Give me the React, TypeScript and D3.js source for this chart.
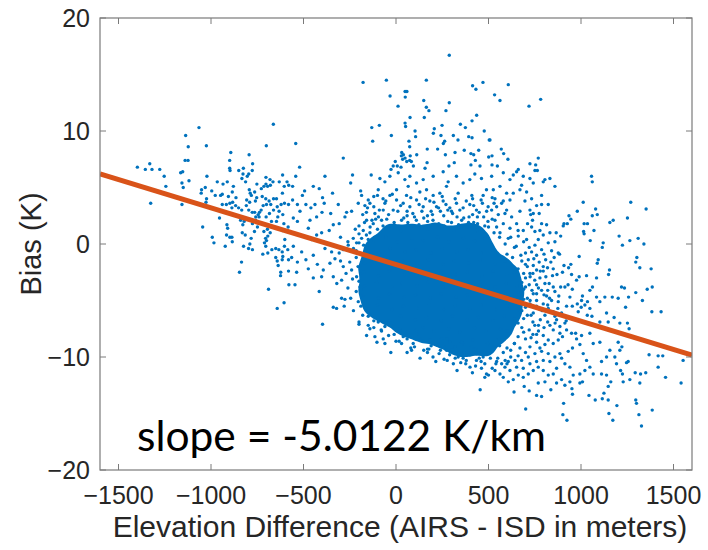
import { useEffect, useRef } from 'react'
import * as d3 from 'd3'

type Pt = [number, number] // [elevation difference (m), bias (K)]

const xTicks = [-1500, -1000, -500, 0, 500, 1000, 1500]
const yTicks = [-20, -10, 0, 10, 20]
const slopePerKm = -5.0122
const interceptK = -1.82

// stations well to the left (AIRS lower than ISD)
const farLeftPoints: Pt[] = [
  [-663,10.6],[-1065,10.3],[-1137,9.6],[-1123,8.6],[-1025,8.7],[-1140,7.4],[-1124,7.4],[-893,8.1],[-899,7.4],[-794,7.9],
  [-775,7.1],[-701,8.7],[-1331,7.1],[-1398,6.8],[-1355,6.6],[-1319,6.6],[-1277,6.6],[-899,6.7],[-825,6.7],[-1164,6.3],
  [-1153,6.4],[-1253,6.0],[-1244,5.1],[-1326,3.6],[-1157,5.4],[-1150,5.0],[-1119,5.6],[-1157,3.5],[-1051,4.8],[-1022,6.0],
  [-1031,5.0],[-1053,4.5],[-1024,4.0],[-1027,3.7],[-996,4.7],[-966,5.5],[-935,5.3],[-912,5.5],[-879,5.1],[-897,6.5],
  [-850,6.5],[-827,6.2],[-977,4.3],[-948,4.3],[-939,4.4],[-906,4.2],[-885,4.6],[-865,4.1],[-883,3.7],[-917,3.5],
  [-939,3.5],[-867,3.4],[-851,3.2],[-834,3.0],[-887,3.2],[-898,3.6],[-1045,1.5],[-993,0.6],[-984,0.1],[-923,-0.2],
  [-914,1.7],[-910,1.4],[-916,0.8],[-898,0.6],[-885,0.2],[-887,0.6],[-954,2.3],[-833,5.8],[-813,5.5],[-804,6.0],
  [-793,4.8],[-788,4.5],[-782,4.3],[-764,4.6],[-753,4.1],[-760,3.8],[-791,3.7],[-807,3.9],[-809,3.4],[-796,3.0],
  [-777,2.8],[-764,2.8],[-752,5.3],[-728,4.9],[-714,5.1],[-703,5.3],[-694,5.1],[-679,5.2],[-681,5.7],[-665,5.5],
  [-703,5.9],[-796,6.2],[-777,6.5],[-613,6.1],[-631,5.5],[-614,4.5],[-604,5.1],[-589,5.5],[-580,5.2],[-723,4.2],
  [-704,4.0],[-686,3.8],[-662,4.0],[-646,4.0],[-677,3.5],[-700,3.5],[-718,3.4],[-729,3.0],[-738,2.8],[-740,2.4],
  [-702,2.4],[-684,2.7],[-662,3.0],[-642,3.3],[-621,3.5],[-603,3.6],[-581,3.5],[-632,2.9],[-612,2.6],[-639,2.4],
  [-646,2.0],[-673,2.0],[-678,1.6],[-695,1.3],[-714,1.1],[-693,0.7],[-680,1.0],[-666,1.5],[-606,1.8],[-614,1.2],
  [-588,1.2],[-583,1.5],[-601,0.4],[-705,0.5],[-700,0.3],[-711,0.1],[-704,-0.2],[-720,-0.9],[-693,-0.8],[-671,-0.5],
  [-650,-0.4],[-633,-0.5],[-615,-0.7],[-603,-0.2],[-585,-0.5],[-612,-1.1],[-650,-1.2],[-642,-1.5],[-615,-1.4],[-637,-1.9],
  [-581,-1.4],[-623,-2.5],[-624,-2.8],[-581,-2.4],[-579,-3.6],[-689,-4.0],[-642,-5.7],[-605,-5.2],[-846,-2.5],[-835,-1.6],
  [-776,-0.5],[-797,-0.4],[-824,-0.2],[-790,0.0],[-783,0.5],[-815,0.8],[-831,1.0],[-828,1.7],[-821,2.0],[-840,2.1],
  [-776,1.8],[-765,1.1],[-749,1.5],[-759,2.1],[-758,2.4],[-745,2.6],
]

// warm-bias outliers above the main cloud
const upperPoints: Pt[] = [
  [288,16.7],[-178,14.3],[-52,14.5],[164,14.5],[414,14.0],[432,13.7],[470,14.3],[49,13.5],[59,13.5],[-32,13.1],
  [50,13.0],[150,12.7],[288,12.5],[11,12.2],[164,12.1],[178,11.8],[270,11.8],[76,11.2],[153,11.2],[436,11.4],
  [49,10.7],[52,10.4],[-131,10.3],[-90,10.5],[207,10.2],[249,10.5],[348,10.6],[375,10.3],[411,10.9],[477,10.0],
  [103,10.0],[202,9.8],[243,9.6],[310,9.6],[393,9.5],[411,9.4],[-25,9.6],[106,9.5],[70,9.1],[-126,9.1],
  [-542,8.9],[263,9.1],[256,8.9],[335,9.2],[504,9.2],[74,8.6],[169,8.4],[225,8.4],[369,8.3],[447,8.3],
  [319,8.1],[31,8.1],[40,7.9],[29,7.8],[49,7.6],[36,7.5],[77,7.8],[112,7.9],[74,7.4],[83,7.3],
  [58,7.3],[267,7.9],[405,8.0],[420,7.9],[429,7.4],[405,7.0],[315,7.2],[168,7.2],[-4,7.3],[7,6.9],
  [-15,6.9],[27,6.8],[-27,6.6],[94,6.9],[157,6.7],[286,6.9],[454,6.9],[501,7.7],[-285,7.6],[-521,6.8],
  [607,14.1],[533,13.2],[562,12.7],[719,12.2],[782,12.8],[508,9.2],[569,8.4],[582,8.0],[519,7.8],[605,7.5],
  [769,7.6],[724,7.1],[755,7.0],[519,7.0],[548,6.9],[661,6.6],
]

// middle band, left of and above the dense core
const midPoints: Pt[] = [
  [-542,6.0],[-559,5.1],[-494,4.7],[-506,4.3],[-559,3.9],[-533,3.5],[-487,3.5],[-460,3.2],[-438,3.5],[-447,5.1],
  [-397,4.1],[-388,3.6],[-415,4.9],[-384,6.0],[-343,4.5],[-312,3.5],[-353,2.7],[-400,2.8],[-429,2.4],[-465,2.1],
  [-555,2.3],[-533,2.0],[-519,2.9],[-474,1.4],[-501,0.7],[-456,0.4],[-429,0.8],[-402,1.0],[-361,1.2],[-339,1.7],
  [-307,1.8],[-276,2.4],[-267,2.8],[-240,2.9],[-245,5.4],[-235,6.1],[-191,4.7],[-186,4.3],[-204,3.6],[-168,3.4],
  [-141,3.6],[-154,3.2],[-134,6.1],[-87,5.8],[-60,5.5],[-96,4.8],[-100,4.3],[-55,3.8],[-33,6.0],[12,6.3],
  [48,5.7],[75,6.0],[111,5.4],[147,5.7],[201,6.0],[255,6.4],[282,5.5],[327,6.0],[363,5.4],[399,5.7],
  [426,6.2],[462,5.8],[489,4.8],[414,4.0],[467,3.6],[336,4.5],[237,4.5],[165,4.8],[57,4.3],[3,3.9],
  [3,4.8],[39,3.6],[75,3.3],[111,3.9],[147,3.3],[183,3.8],[219,3.3],[255,3.8],[291,3.2],[327,3.6],
  [363,3.2],[399,3.5],[435,3.0],[471,4.3],[498,3.3],[273,5.1],[201,4.3],[129,4.6],[66,5.1],[-33,4.3],
  [-15,3.0],[-69,3.0],[-114,2.7],[-78,2.1],[-123,1.8],[-159,2.1],[-177,1.2],[-141,1.0],[-186,0.5],[42,2.3],
  [91,2.7],[150,2.3],[197,2.6],[258,2.5],[306,2.7],[366,2.3],[414,2.6],[474,2.4],[64,1.9],[124,1.7],
  [171,2.0],[231,1.8],[280,2.0],[338,1.7],[392,1.9],[441,1.8],[497,2.0],
  [-555,-0.2],[-510,-0.7],[-564,-1.2],[-533,-1.6],[-487,-1.4],[-447,-1.0],[-425,-1.8],[-474,-2.2],[-537,-2.5],[-546,-3.6],
  [-447,-3.0],[-393,-2.3],[-402,-2.9],[-357,-1.7],[-330,-1.3],[-307,-0.8],[-348,-0.7],[-384,-0.4],[-285,-0.5],[-258,-0.1],
  [-231,0.5],[-213,0.1],[-285,-2.0],[-339,-2.9],[-294,-3.2],[-240,-2.3],[-213,-2.9],[-415,-4.2],[-294,-4.8],[-276,-4.9],
  [-339,-5.6],[-321,-5.7],[-195,-3.8],[-150,-6.4],[-204,-5.1],
]

// cold-bias tail below the core
const lowerPoints: Pt[] = [
  [-397,-7.1],[-200,-7.1],[-103,-8.7],[-28,-9.6],[-78,-7.7],[17,-8.6],[84,-9.4],[93,-8.8],[170,-9.3],[178,-9.3],
  [215,-10.4],[277,-10.3],[219,-8.9],[233,-9.7],[273,-9.4],[318,-9.1],[327,-9.5],[336,-10.0],[363,-10.1],[377,-10.6],
  [413,-11.4],[455,-12.9],[399,-9.8],[435,-10.3],[462,-11.0],[480,-11.8],[489,-11.5],[435,-9.7],[471,-10.0],[57,-7.9],
  [21,-7.6],[111,-7.6],[-15,-7.3],[-51,-7.0],[39,-8.2],[138,-8.4],[183,-8.5],[246,-8.4],[291,-8.7],[363,-8.8],
  [408,-9.1],[-141,-7.5],[-159,-8.1],[-114,-8.2],[-69,-8.4],[-96,-6.9],
  [701,-14.6],[906,-14.1],[902,-15.1],[924,-15.6],[1151,-15.0],[1172,-15.6],[1327,-16.1],[1313,-15.1],[1385,-14.7],[1296,-13.8],
  [1300,-14.1],[1194,-14.3],[1147,-13.8],[1115,-13.7],[1077,-13.8],[1043,-13.4],[1124,-13.2],[954,-13.3],[951,-12.8],[638,-13.1],
  [693,-12.6],[720,-13.0],[760,-13.4],[787,-13.5],[837,-12.9],[769,-12.3],[805,-12.2],[868,-12.3],[895,-12.0],[940,-12.2],
  [913,-12.5],[994,-12.3],[1008,-12.2],[1147,-12.6],[1161,-12.2],[1228,-12.2],[1264,-12.0],[1318,-12.3],[1322,-11.5],[1293,-11.4],
  [1350,-11.4],[1457,-11.8],[1541,-12.3],[1552,-10.3],[1442,-9.9],[1417,-9.9],[1368,-9.8],[1417,-10.9],[1246,-10.5],[1255,-10.4],
  [1214,-11.2],[1224,-11.5],[1192,-10.6],[1183,-10.0],[1210,-9.4],[1221,-9.1],[1201,-8.7],[1215,-7.9],[1260,-7.5],[1210,-7.0],
  [1251,-7.0],[1147,-6.9],[1102,-6.9],[1048,-7.9],[1066,-8.8],[1102,-8.7],[1156,-9.4],[1138,-10.0],[1111,-10.4],[1111,-11.5],
  [1138,-11.6],[1066,-11.5],[1048,-10.9],[1030,-10.3],[1012,-9.7],[994,-8.9],[976,-8.4],[949,-7.9],[922,-7.6],[913,-7.0],
  [886,-7.3],[868,-6.7],[971,-7.9],[1003,-8.1],[1021,-11.2],[994,-11.5],[958,-11.6],[940,-10.9],[913,-10.6],[895,-10.1],
  [886,-9.7],[931,-9.5],[954,-9.2],[868,-11.0],[850,-11.5],[823,-11.6],[796,-11.2],[769,-10.9],[742,-11.2],[715,-11.5],
  [688,-11.8],[661,-11.6],[634,-12.0],[607,-12.2],[580,-11.8],[562,-11.5],[535,-11.2],[616,-11.2],[589,-10.9],[652,-10.9],
  [688,-11.0],[724,-10.6],[760,-10.4],[796,-10.3],[832,-10.4],[859,-10.0],[823,-9.7],[787,-9.5],[751,-9.7],[715,-10.0],
  [679,-10.3],[643,-10.3],[607,-10.4],[571,-10.6],[544,-10.4],[823,-8.5],[850,-8.8],[877,-8.5],[886,-7.9],[850,-7.6],
  [832,-7.2],[796,-8.1],[760,-8.7],[724,-9.1],[778,-9.2],[805,-8.9],
]

// right flank (AIRS higher than ISD)
const rightPoints: Pt[] = [
  [1057,6.0],[1061,5.5],[1269,3.7],[1352,3.1],[1012,3.7],[980,2.9],[1079,3.1],[1088,2.6],[1061,2.5],[935,2.5],
  [945,2.2],[908,1.8],[904,1.6],[926,1.8],[1017,1.8],[1035,1.8],[1014,1.1],[1017,0.9],[1070,1.2],[1156,1.9],
  [1174,2.1],[1251,2.3],[1206,0.7],[1264,0.3],[1224,-0.1],[1309,0.5],[1340,0.0],[1120,0.1],[1115,-0.3],[1050,0.3],
  [990,-1.1],[1093,-1.4],[1088,-1.7],[1154,-2.3],[1149,-2.7],[1302,-1.2],[1296,-1.6],[1318,-2.1],[1379,-2.2],[1385,-3.8],
  [1358,-4.0],[1296,-4.3],[1235,-3.9],[1219,-3.8],[1257,-4.7],[1201,-4.8],[1241,-5.6],[1383,-6.0],[1433,-6.0],[1332,-5.0],
  [1169,-4.7],[1179,-6.5],[1138,-6.1],[1102,-5.1],[1129,-4.7],[1084,-4.7],[1048,-4.1],[1062,-3.8],[1008,-4.6],[1003,-5.0],
  [1035,-5.1],[1048,-5.7],[1021,-5.4],[1059,-6.4],[1034,-6.3],[985,-6.0],[1001,-5.6],[976,-3.2],[990,-2.9],[1030,-2.8],
  [1084,-3.0],[949,-2.7],[953,-4.0],[940,-4.7],[953,-5.5],[980,-5.3],[913,-3.8],[890,-3.8],[922,-5.5],[895,-6.1],
  [875,-5.7],[877,-5.1],[945,-1.8],[933,-2.1],[884,-0.9],[908,-1.9],[855,-1.2],[877,-0.8],[841,-0.6],[809,-1.4],
  [837,-1.6],[819,-2.1],[796,-2.4],[846,-2.8],[828,-3.5],[850,-3.8],[859,-4.2],[832,1.0],[866,1.0],[890,0.7],
  [859,0.2],[823,0.1],[796,0.8],[778,1.2],[814,1.7],[787,1.8],[823,3.5],[787,3.5],[760,3.4],[742,2.7],
  [774,2.7],[728,2.6],[738,2.1],[711,1.8],[733,1.5],[751,1.1],[769,0.4],[751,-0.1],[787,-0.5],[760,-1.0],
  [733,-0.7],[715,-1.4],[742,-1.9],[774,-1.6],[796,-2.0],[760,-2.3],[724,-2.6],[778,-3.0],[805,-3.5],[760,-3.6],
  [787,-4.1],[814,-4.6],[841,-5.0],[796,-5.3],[823,-5.7],[760,-5.0],[742,-4.4],[724,-5.3],[778,-5.8],[742,-6.1],
  [805,-6.3],[859,-6.4],[724,3.0],[697,3.8],[733,4.0],[706,4.6],[670,4.8],[634,4.5],[616,3.9],[742,5.4],
  [724,5.8],[688,6.0],[652,6.4],[634,6.1],[679,5.2],[580,3.8],[544,3.3],[589,2.7],[535,2.1],[625,2.4],
  [670,2.9],[652,1.8],[616,1.4],[688,1.2],[661,0.7],[706,0.4],[607,0.5],[562,1.0],[544,1.5],[764,6.5],
  [751,6.5],[805,5.7],[796,5.5],[832,5.8],[859,5.1],[787,4.3],[526,4.8],[562,5.1],[598,4.5],[535,4.0],
  [571,3.6],[517,3.0],[553,2.6],[598,3.0],[517,6.0],[580,6.3],[616,5.7],
]

// busy ring just outside the saturated core
const haloPoints: Pt[] = [
  [-180,2.6],[-150,3.9],[-120,3.3],[-95,2.4],[-60,3.6],[-40,2.6],[-20,4.4],[10,2.9],[25,3.4],[60,2.9],
  [80,4.1],[100,2.4],[125,3.5],[140,2.9],[160,4.0],[190,2.9],[205,3.7],[240,2.9],[250,4.2],[270,3.5],
  [300,2.9],[320,4.0],[345,3.0],[355,2.1],[380,3.8],[395,2.4],[420,3.4],[450,2.8],[460,3.9],[490,2.9],
  [520,2.2],[530,3.6],[-10,1.9],[30,2.1],[110,2.1],[200,2.1],[260,1.6],[300,1.9],[350,1.5],[420,1.9],
  [480,1.6],[-100,1.3],[-130,2.1],[-160,0.8],[-200,1.6],[-90,3.0],[60,2.5],[230,3.2],[410,4.3],[520,4.1],
  [-220,1.3],[-170,1.9],[-140,1.5],[-110,2.2],[-70,1.6],[-50,2.2],[-150,0.4],[-175,-0.1],[-215,-0.6],[-160,2.8],
  [-70,4.0],[-120,4.2],[170,2.5],[330,2.4],[280,3.0],[440,2.4],[500,1.5],[530,1.0],[560,0.6],[590,0.0],
  [-200,0.9],[-230,-0.4],[-215,-1.2],[-250,-1.6],[-205,-2.0],[-235,-3.1],[-200,-3.3],[-260,-3.9],[-215,-4.2],[-245,-4.8],
  [-190,-5.5],[-230,-5.9],[-180,-6.3],[-200,-6.9],[-150,-7.2],[-120,-7.4],[-270,-2.6],[-300,-1.5],[-320,-3.5],[-280,-5.5],
  [-200,0.1],[-260,0.2],[-300,0.6],[-185,-2.6],[-190,-4.0],[-120,-6.8],[-150,-6.0],[-60,-7.3],
  [-80,-7.6],[-40,-8.1],[-10,-8.0],[30,-8.8],[60,-8.4],[100,-9.1],[120,-8.0],[150,-9.4],[190,-9.0],[200,-10.0],
  [240,-9.4],[260,-10.2],[290,-9.8],[310,-10.6],[350,-10.5],[370,-9.8],[400,-10.9],[430,-10.8],[450,-10.1],[480,-10.6],
  [510,-10.1],[520,-11.0],[550,-10.1],[580,-9.6],[600,-10.6],[620,-9.4],[640,-8.8],[660,-9.9],[60,-9.6],[-60,-8.8],
  [130,-10.1],[330,-11.2],[500,-11.6],[560,-9.0],[0,-8.6],[80,-9.2],[170,-9.6],[260,-9.1],[320,-10.1],[380,-10.3],
  [460,-10.4],[540,-10.6],[600,-9.2],
  [690,0.2],[700,-0.8],[680,-1.5],[710,-2.0],[700,-3.0],[720,-3.6],[690,-4.0],[710,-4.8],[700,-5.6],[730,-6.3],
  [690,-6.6],[680,-7.4],[720,-7.6],[700,-8.4],[660,-8.2],[750,-7.2],[740,-8.0],[670,-6.0],[680,-3.4],[670,-5.2],
  [740,-2.6],[760,-4.4],[640,-0.3],[620,0.6],[660,1.2],[580,1.8],[600,-0.9],[630,-1.2],[780,-6.7],[770,-7.7],
  [820,-6.9],[800,-0.9],[820,-4.1],[850,-2.2],
  [650,-0.2],[675,-1.0],[720,-0.3],[745,-1.3],[700,-1.8],[660,-2.2],[690,-2.6],[725,-2.9],[750,-3.2],[780,-2.4],
  [810,-2.9],[700,-3.8],[735,-4.1],[770,-3.9],[800,-4.5],[830,-4.8],[660,-4.3],[690,-4.9],[725,-5.0],[760,-5.5],
  [790,-5.9],[820,-5.4],[850,-6.0],[680,-5.9],[710,-6.3],[740,-6.9],[770,-7.2],[800,-7.4],[660,-7.0],[690,-7.8],
  [730,-8.3],[760,-8.0],[640,-8.8],[670,-9.2],[700,-9.6],[620,-10.0],[590,-10.3],[880,-4.6],[870,-2.7],[860,-7.0],
  [900,-8.2],[920,-6.8],[900,-2.5],[930,-3.6],
]

// saturated centre of the cloud (drawn as a filled density region plus dots)
const corePoints: Pt[] = [
  [-40,1.5],[25,1.2],[95,1.6],[175,1.3],[235,1.5],[315,1.2],[385,1.5],[440,1.2],
  [-120,0.3],[-55,0.6],[5,0.2],[85,0.5],[145,0.3],[225,0.6],[285,0.2],[365,0.5],[425,0.3],[480,0.5],
  [-150,-0.5],[-90,-0.8],[-30,-0.4],[50,-0.7],[110,-0.5],[190,-0.8],[250,-0.4],[330,-0.7],[390,-0.5],[460,-0.8],[520,-0.5],
  [-170,-1.7],[-105,-1.4],[-25,-1.8],[35,-1.5],[115,-1.7],[175,-1.4],[255,-1.8],[315,-1.5],[395,-1.7],[455,-1.4],[535,-1.8],[590,-1.5],
  [-175,-2.5],[-95,-2.8],[-35,-2.4],[45,-2.7],[105,-2.5],[185,-2.8],[245,-2.4],[325,-2.7],[385,-2.5],[465,-2.8],[525,-2.4],[600,-2.7],[640,-2.5],
  [-170,-3.7],[-105,-3.4],[-25,-3.8],[35,-3.5],[115,-3.7],[175,-3.4],[255,-3.8],[315,-3.5],[395,-3.7],[455,-3.4],[535,-3.8],[595,-3.5],[655,-3.7],
  [-175,-4.5],[-95,-4.8],[-35,-4.4],[45,-4.7],[105,-4.5],[185,-4.8],[245,-4.4],[325,-4.7],[385,-4.5],[465,-4.8],[525,-4.4],[605,-4.7],[665,-4.5],
  [-160,-5.7],[-100,-5.4],[-20,-5.8],[40,-5.5],[120,-5.7],[180,-5.4],[260,-5.8],[320,-5.5],[400,-5.7],[460,-5.4],[540,-5.8],[600,-5.5],[655,-5.7],
  [-100,-6.5],[-35,-6.8],[25,-6.4],[105,-6.7],[165,-6.5],[245,-6.8],[305,-6.4],[385,-6.7],[445,-6.5],[525,-6.8],[585,-6.4],[640,-6.6],
  [20,-7.5],[65,-7.8],[145,-7.4],[205,-7.7],[285,-7.5],[345,-7.8],[425,-7.4],[485,-7.7],[565,-7.5],[600,-7.7],
  [130,-8.5],[215,-8.8],[275,-8.4],[355,-8.7],[415,-8.5],[495,-8.8],[555,-8.4],
  [300,-9.4],[370,-9.6],[430,-9.3],[500,-9.6],
]

const width = 708
const height = 550
const blue = '#0072BD'
const orange = '#D95319'
const axisGray = '#7a7a7a'
const textColor = '#262626'

function fmt(v: number) {
  return v < 0 ? '\u2212' + Math.abs(v) : String(v)
}

export default function App() {
  const ref = useRef<SVGSVGElement>(null)

  useEffect(() => {
    const svg = d3.select(ref.current)
    svg.selectAll('*').remove()

    const x = d3.scaleLinear().domain([-1600, 1600]).range([100, 692])
    const y = d3.scaleLinear().domain([-20, 20]).range([470, 18])
    const [x0, x1] = x.range()
    const [y0, y1] = y.range()

    svg.append('rect').attr('width', width).attr('height', height).attr('fill', '#fff')

    svg.append('clipPath').attr('id', 'plot-clip')
      .append('rect')
      .attr('x', x0).attr('y', y1)
      .attr('width', x1 - x0).attr('height', y0 - y1)

    const plot = svg.append('g').attr('clip-path', 'url(#plot-clip)')

    // saturated core: density region of the core samples
    const density = d3.contourDensity<Pt>()
      .x(d => x(d[0]))
      .y(d => y(d[1]))
      .size([width, height])
      .cellSize(2)
      .bandwidth(6.5)
    let shape: any = null
    const dAny = density as any
    if (typeof dAny.contours === 'function') {
      const grid = dAny.contours(corePoints)
      const level = grid.max * 0.45
      shape = typeof grid === 'function' ? grid(level) : grid.contour(level)
    } else {
      shape = density.thresholds([0.0033])(corePoints)[0]
    }
    if (shape) {
      plot.append('path')
        .attr('d', d3.geoPath()(shape))
        .attr('fill', blue)
    }

    const allPoints = [
      ...farLeftPoints, ...upperPoints, ...midPoints, ...lowerPoints,
      ...rightPoints, ...haloPoints, ...corePoints,
    ]
    plot.append('g')
      .selectAll('circle')
      .data(allPoints)
      .join('circle')
      .attr('cx', d => x(d[0]))
      .attr('cy', d => y(d[1]))
      .attr('r', 1.7)
      .attr('fill', blue)

    // least squares fit line
    const fit = x.domain().map(v => [v, interceptK + slopePerKm * v / 1000] as Pt)
    plot.append('path')
      .attr('d', d3.line<Pt>().x(d => x(d[0])).y(d => y(d[1]))(fit))
      .attr('fill', 'none')
      .attr('stroke', orange)
      .attr('stroke-width', 5)

    // axes box with inward ticks on all sides
    const axes = svg.append('g')
    axes.append('rect')
      .attr('x', x0).attr('y', y1)
      .attr('width', x1 - x0).attr('height', y0 - y1)
      .attr('fill', 'none')
      .attr('stroke', axisGray)
      .attr('stroke-width', 1.2)

    const tickLen = 6
    xTicks.forEach(t => {
      axes.append('line').attr('x1', x(t)).attr('x2', x(t)).attr('y1', y0).attr('y2', y0 - tickLen)
        .attr('stroke', axisGray)
      axes.append('line').attr('x1', x(t)).attr('x2', x(t)).attr('y1', y1).attr('y2', y1 + tickLen)
        .attr('stroke', axisGray)
      axes.append('text')
        .attr('x', x(t)).attr('y', y0 + 34)
        .attr('text-anchor', 'middle')
        .attr('font-family', 'Liberation Sans, Arial, sans-serif')
        .attr('font-size', 25)
        .attr('fill', textColor)
        .text(fmt(t))
    })
    yTicks.forEach(t => {
      axes.append('line').attr('x1', x0).attr('x2', x0 + tickLen).attr('y1', y(t)).attr('y2', y(t))
        .attr('stroke', axisGray)
      axes.append('line').attr('x1', x1).attr('x2', x1 - tickLen).attr('y1', y(t)).attr('y2', y(t))
        .attr('stroke', axisGray)
      axes.append('text')
        .attr('x', x0 - 10).attr('y', y(t) + 9)
        .attr('text-anchor', 'end')
        .attr('font-family', 'Liberation Sans, Arial, sans-serif')
        .attr('font-size', 25)
        .attr('fill', textColor)
        .text(fmt(t))
    })

    svg.append('text')
      .attr('x', (x0 + x1) / 2 + 4).attr('y', 537)
      .attr('text-anchor', 'middle')
      .attr('font-family', 'Liberation Sans, Arial, sans-serif')
      .attr('font-size', 30)
      .attr('fill', textColor)
      .text('Elevation Difference (AIRS - ISD in meters)')

    svg.append('text')
      .attr('transform', `translate(41,${(y0 + y1) / 2}) rotate(-90)`)
      .attr('text-anchor', 'middle')
      .attr('font-family', 'Liberation Sans, Arial, sans-serif')
      .attr('font-size', 29)
      .attr('fill', textColor)
      .text('Bias (K)')

    svg.append('text')
      .attr('x', 137).attr('y', 451)
      .attr('font-family', 'Lato, Carlito, Calibri, sans-serif')
      .attr('font-size', 42.5)
      .attr('fill', '#000')
      .text(`slope = ${slopePerKm} K/km`)
  }, [])

  return (
    <svg
      ref={ref}
      width={width}
      height={height}
      style={{ position: 'absolute', left: 0, top: 0, display: 'block' }}
    />
  )
}
